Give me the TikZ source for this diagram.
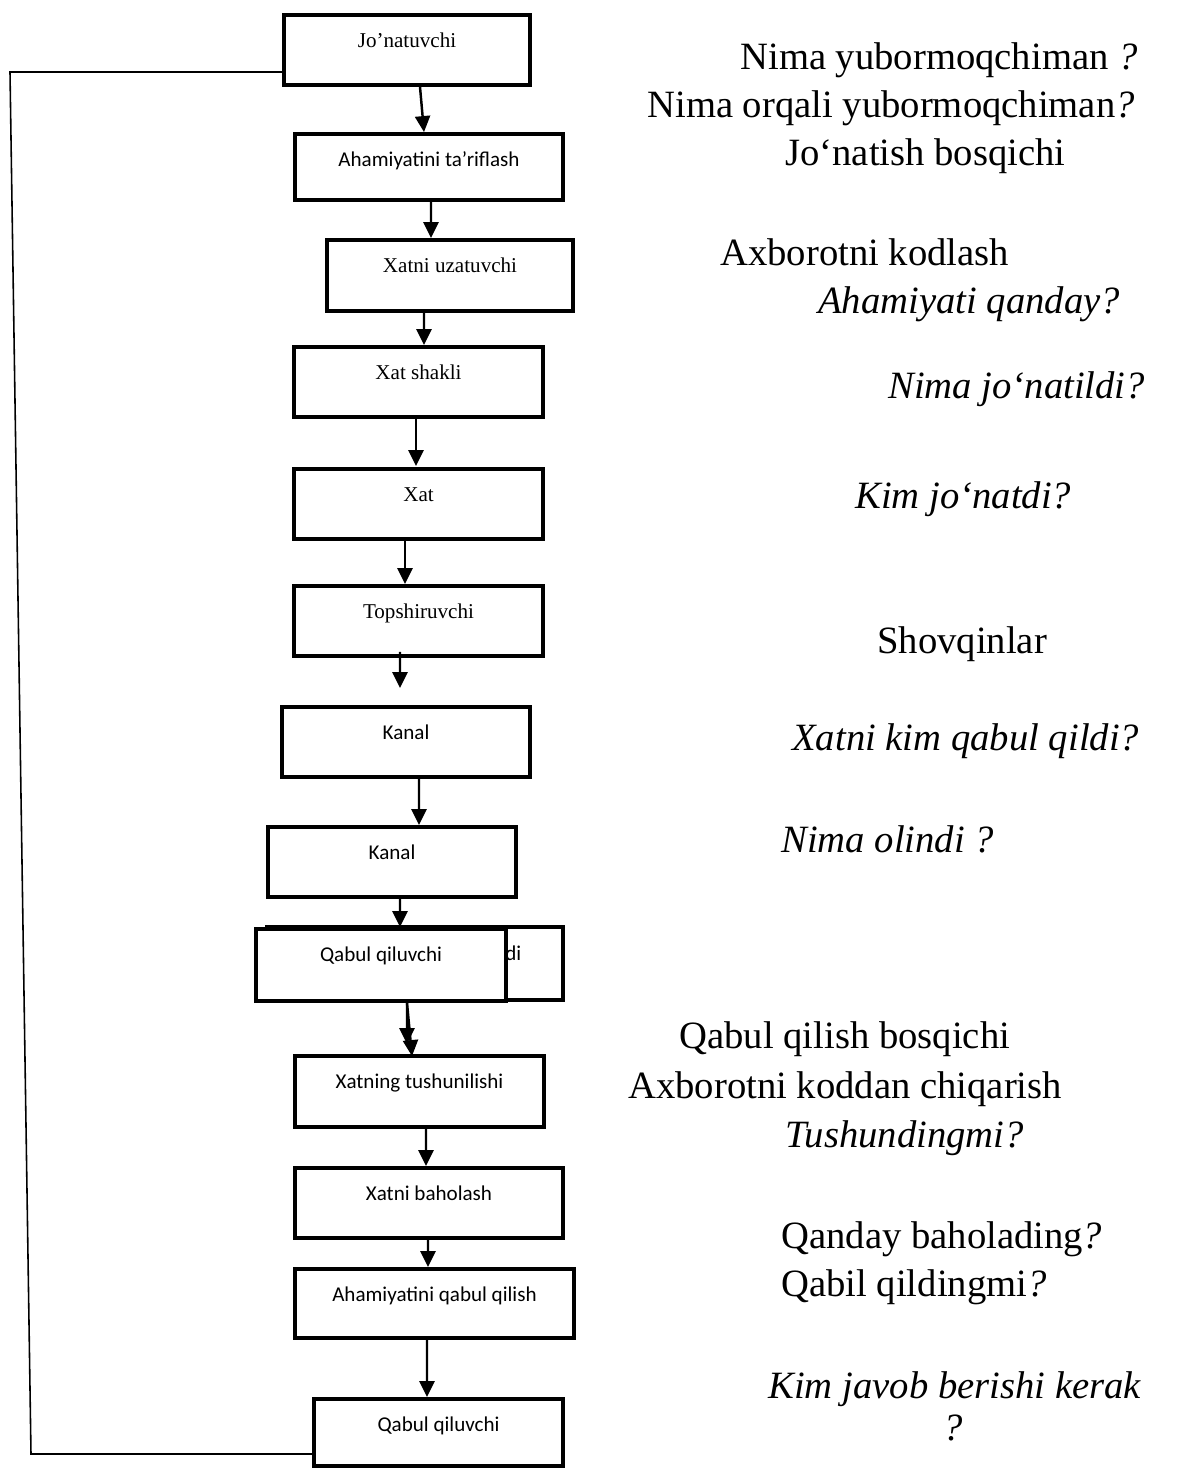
\documentclass[tikz,border=0pt]{standalone}
\usepackage{fontspec}
\setmainfont{Liberation Serif}
\newfontfamily\boxsans{Carlito}
\usetikzlibrary{arrows.meta}

\begin{document}
\begin{tikzpicture}[x=0.02cm, y=-0.02cm,
  box/.style={draw, line width=2.2pt, fill=white, inner xsep=0pt, inner ysep=0pt,
    text height=0.64cm, text depth=0.76cm, font=\fontsize{12}{14}\selectfont},
  sbox/.style={box, font=\boxsans\fontsize{12}{14}\selectfont},
  arr/.style={line width=1.4pt, -{Triangle[length=0.32cm,width=0.3cm]}},
  fb/.style={line width=0.9pt},
  note/.style={anchor=base west, inner sep=0pt, font=\fontsize{22}{26}\selectfont},
  inote/.style={note, font=\fontsize{22}{26}\selectfont\itshape}]
  \useasboundingbox (0,0) rectangle (1186,1470);

  % chain of boxes
  \node[box, minimum width=4.92cm] (jonat) at (407,50) {Jo’natuvchi};
  \node[sbox, minimum width=5.36cm, text depth=0.68cm] (tarif) at (429,167) {Ahamiyatini ta’riflash};
  \node[box, minimum width=4.92cm, text depth=0.78cm] (uzat) at (450,275.5) {Xatni uzatuvchi};
  \node[box, minimum width=4.98cm] (shakl) at (418.5,382) {Xat shakli};
  \node[box, minimum width=4.98cm] (xat) at (418.5,504) {Xat};
  \node[box, minimum width=4.98cm] (topsh) at (418.5,621) {Topshiruvchi};
  \node[sbox, minimum width=4.96cm] (kanal1) at (406,742) {Kanal};
  \node[sbox, minimum width=4.96cm] (kanal2) at (392,862) {Kanal};
  \node[sbox, minimum width=5.92cm, text depth=0.82cm, line width=1.8pt] (qabulB) at (415,963.5) {};
  \node[anchor=base west, inner sep=0pt, font=\boxsans\fontsize{12}{14}\selectfont] (qabulBdi) at (505,960) {di};
  \node[sbox, minimum width=5.0cm, text depth=0.80cm] (qabul1) at (381,965) {Qabul qiluvchi};
  \node[sbox, minimum width=4.98cm, text depth=0.78cm] (tush) at (419.5,1091.5) {Xatning tushunilishi};
  \node[sbox, minimum width=5.36cm] (baho) at (429,1203) {Xatni baholash};
  \node[sbox, minimum width=5.58cm, text depth=0.74cm] (ahqabul) at (434.5,1303.5) {Ahamiyatini qabul qilish};
  \node[sbox, minimum width=4.98cm, text depth=0.70cm] (qabul2) at (438.5,1432.5) {Qabul qiluvchi};

  % arrows
  \draw[arr] ([xshift=0.26cm]jonat.south) -- ([xshift=-0.1cm]tarif.north);
  \draw[arr] ([xshift=0.04cm,yshift=0.06cm]tarif.south) -- ([xshift=-0.38cm]uzat.north);
  \draw[arr] ([xshift=-0.52cm]uzat.south) -- ([xshift=0.11cm]shakl.north);
  \draw[arr] ([xshift=-0.05cm]shakl.south) -- ([xshift=-0.05cm,yshift=0.02cm]xat.north);
  \draw[arr] ([xshift=-0.27cm]xat.south) -- ([xshift=-0.27cm]topsh.north);
  \draw[arr] ([xshift=-0.37cm,yshift=0.12cm]topsh.south) -- ([xshift=-0.12cm,yshift=0.34cm]kanal1.north);
  \draw[arr] ([xshift=0.26cm]kanal1.south) -- ([xshift=0.54cm]kanal2.north);
  \draw[arr] ([xshift=0.16cm]kanal2.south) -- ([xshift=0.38cm]qabul1.north);
  \draw[arr] ([xshift=0.52cm]qabul1.south) -- ([xshift=-0.15cm,yshift=-0.04cm]tush.north);
  \draw[arr] ([xshift=0.52cm]qabul1.south) -- ([xshift=-0.25cm,yshift=0.2cm]tush.north);
  \draw[arr] ([xshift=0.13cm]tush.south) -- ([xshift=-0.06cm]baho.north);
  \draw[arr] ([xshift=-0.02cm]baho.south) -- ([xshift=-0.13cm]ahqabul.north);
  \draw[arr] ([xshift=-0.15cm]ahqabul.south) -- ([xshift=-0.23cm]qabul2.north);

  % feedback line
  \coordinate (fbB) at (31,1454);
  \coordinate (fbT) at (10,72);
  \draw[fb] ([yshift=-0.43cm]qabul2.west) -- (fbB) -- (fbT) -- ([yshift=-0.44cm]jonat.west);

  % questions on the right
  \node[note] (q1) at (740,70) {Nima yubormoqchiman \textit{?}};
  \node[note] (q2) at (647,117) {Nima orqali yubormoqchiman\textit{?}};
  \node[note] (q3) at (785,165) {Jo‘natish bosqichi};
  \node[note] (q4) at (720,265) {Axborotni kodlash};
  \node[inote] (q5) at (818,313) {Ahamiyati qanday?};
  \node[inote] (q6) at (888,398) {Nima jo‘natildi?};
  \node[inote] (q7) at (855,508) {Kim jo‘natdi?};
  \node[note] (q8) at (877,653) {Shovqinlar};
  \node[inote] (q9) at (792,750) {Xatni kim qabul qildi?};
  \node[inote] (q10) at (781,852) {Nima olindi ?};
  \node[note] (q11) at (679,1048) {Qabul qilish bosqichi};
  \node[note] (q12) at (628,1098) {Axborotni koddan chiqarish};
  \node[inote] (q13) at (785,1147) {Tushundingmi?};
  \node[note] (q14) at (781,1248) {Qanday baholading\textit{?}};
  \node[note] (q15) at (781,1296) {Qabil qildingmi\textit{?}};
  \node[inote] (q16) at (768,1398) {Kim javob berishi kerak};
  \node[inote, anchor=base] (q17) at (953,1440) {?};
\end{tikzpicture}
\end{document}
